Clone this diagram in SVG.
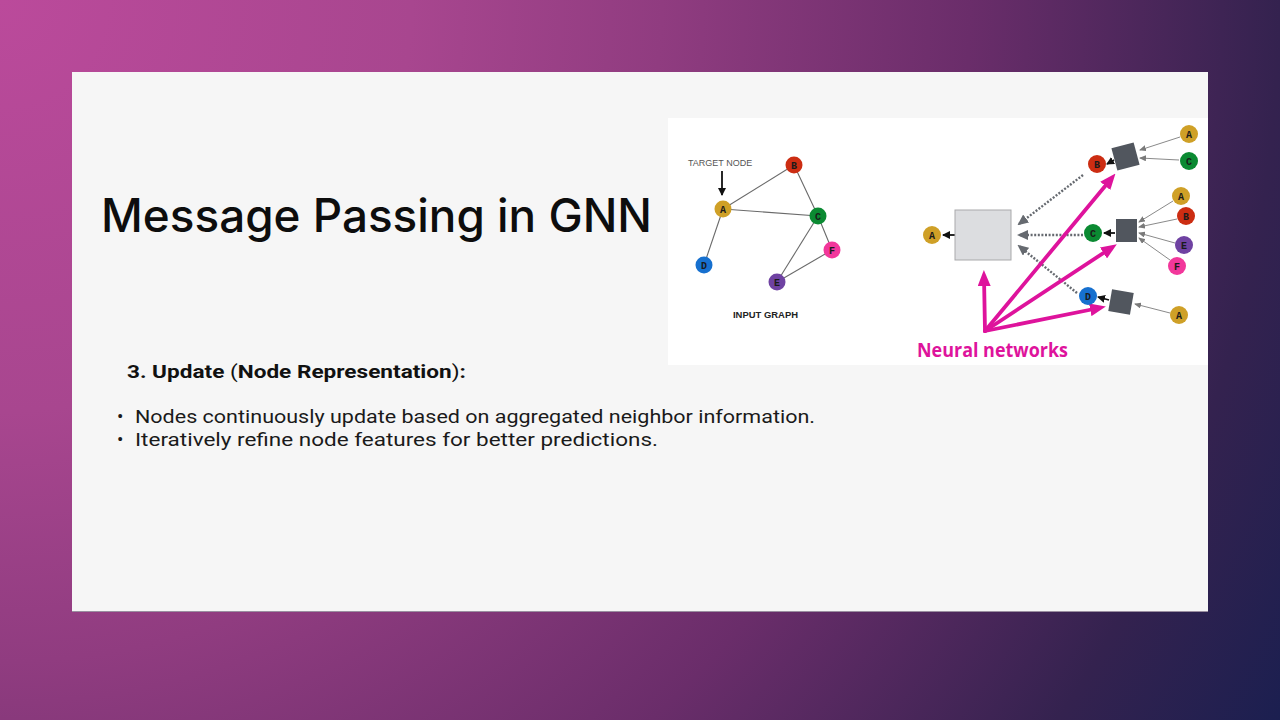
<svg xmlns="http://www.w3.org/2000/svg" width="1280" height="720" viewBox="0 0 1280 720">
  <defs>
    <radialGradient id="bg" gradientUnits="userSpaceOnUse" cx="0" cy="0" r="1470">
      <stop offset="0" stop-color="#bb4a9b"/>
      <stop offset="0.28" stop-color="#a8468f"/>
      <stop offset="0.45" stop-color="#903c80"/>
      <stop offset="0.66" stop-color="#6a2d6a"/>
      <stop offset="0.87" stop-color="#34224f"/>
      <stop offset="1" stop-color="#1b1f50"/>
    </radialGradient>
    <marker id="mk-black" markerUnits="userSpaceOnUse" markerWidth="8" markerHeight="8" refX="7" refY="4" orient="auto">
      <path d="M0,0 L8,4 L0,8 z" fill="#111"/>
    </marker>
    <marker id="mk-dot" markerUnits="userSpaceOnUse" markerWidth="11" markerHeight="10" refX="9" refY="5" orient="auto">
      <path d="M0,0 L11,5 L0,10 z" fill="#666a70"/>
    </marker>
    <marker id="mk-thin" markerUnits="userSpaceOnUse" markerWidth="7" markerHeight="6" refX="6" refY="3" orient="auto">
      <path d="M0,0 L7,3 L0,6 z" fill="#7a7a7a"/>
    </marker>
    <marker id="mk-mag" markerUnits="userSpaceOnUse" markerWidth="16" markerHeight="13" refX="9" refY="6.5" orient="auto">
      <path d="M0,0 L16,6.5 L0,13 z" fill="#de139c"/>
    </marker>
    <style>
      .title { font-family: "Inter", "Liberation Sans", sans-serif; font-size: 46px; font-weight: 500; fill: #0d0d0d; }
      .sub { font-family: "Roboto", "Liberation Sans", sans-serif; font-size: 19px; fill: #111; }
      .body { font-family: "Roboto", "Liberation Sans", sans-serif; font-size: 19px; fill: #1a1a1a; }
      .lbl { font-family: "Liberation Mono", "DejaVu Sans Mono", monospace; font-size: 10px; font-weight: bold; fill: #1a1a1a; text-anchor: middle; }
      .cap { font-family: "Liberation Sans", sans-serif; font-size: 9px; }
      .edge { stroke: #6a6a6a; stroke-width: 1.1; fill: none; }
      .dot { stroke: #666a70; stroke-width: 2.4; stroke-dasharray: 2 1.6; fill: none; }
      .thin { stroke: #8a8a8a; stroke-width: 1; fill: none; }
      .blk { stroke: #111; stroke-width: 1.8; fill: none; }
      .mag { stroke: #de139c; stroke-width: 3.8; fill: none; stroke-linecap: round; }
      .sq { fill: #51565e; }
      .nA { fill: #cfa027; }
      .nB { fill: #cc2d12; }
      .nC { fill: #0b8a32; }
      .nD { fill: #1670cf; }
      .nE { fill: #6f42a2; }
      .nF { fill: #f2379b; }
    </style>
  </defs>

  <!-- backdrop and slide card -->
  <rect x="0" y="0" width="1280" height="720" fill="url(#bg)"/>
  <rect x="72" y="72" width="1136" height="540" fill="#9a8ea0"/>
  <rect x="72" y="72" width="1136" height="539" fill="#f6f6f6"/>
  <rect x="668" y="118" width="540" height="247" fill="#ffffff"/>

  <!-- headings and body text -->
  <text class="title" x="101" y="232" textLength="551" lengthAdjust="spacingAndGlyphs">Message Passing in GNN</text>
  <text class="sub" x="127" y="378" textLength="339" lengthAdjust="spacingAndGlyphs"><tspan font-weight="bold">3. Update </tspan><tspan>(</tspan><tspan font-weight="bold">Node Representation</tspan><tspan>)</tspan><tspan font-weight="bold">:</tspan></text>
  <text class="body" x="117" y="423">•</text>
  <text class="body" x="135" y="423" textLength="680" lengthAdjust="spacingAndGlyphs">Nodes continuously update based on aggregated neighbor information.</text>
  <text class="body" x="117" y="446">•</text>
  <text class="body" x="135" y="446" textLength="523" lengthAdjust="spacingAndGlyphs">Iteratively refine node features for better predictions.</text>

  <!-- input graph -->
  <g id="input-graph-edges">
    <line class="edge" x1="723" y1="209" x2="794" y2="165"/>
    <line class="edge" x1="723" y1="209" x2="818" y2="216"/>
    <line class="edge" x1="723" y1="209" x2="704" y2="265"/>
    <line class="edge" x1="794" y1="165" x2="818" y2="216"/>
    <line class="edge" x1="818" y1="216" x2="777" y2="282"/>
    <line class="edge" x1="818" y1="216" x2="832" y2="250"/>
    <line class="edge" x1="777" y1="282" x2="832" y2="250"/>
  </g>
  <g id="target-label">
    <text class="cap" x="688" y="166" fill="#555">TARGET NODE</text>
    <line class="blk" x1="722" y1="171" x2="722" y2="195" stroke-width="1.2" marker-end="url(#mk-black)"/>
  </g>
  <g id="g-A"><circle class="nA" cx="723" cy="209" r="8.5"/><text class="lbl" x="723" y="212.5">A</text></g>
  <g id="g-B"><circle class="nB" cx="794" cy="165" r="8.5"/><text class="lbl" x="794" y="168.5">B</text></g>
  <g id="g-C"><circle class="nC" cx="818" cy="216" r="8.5"/><text class="lbl" x="818" y="219.5">C</text></g>
  <g id="g-D"><circle class="nD" cx="704" cy="265" r="8.5"/><text class="lbl" x="704" y="268.5">D</text></g>
  <g id="g-E"><circle class="nE" cx="777" cy="282" r="8.5"/><text class="lbl" x="777" y="285.5">E</text></g>
  <g id="g-F"><circle class="nF" cx="832" cy="250" r="8.5"/><text class="lbl" x="832" y="253.5">F</text></g>
  <text class="cap" x="733" y="318" font-weight="bold" font-size="8.5" fill="#222" textLength="65" lengthAdjust="spacingAndGlyphs">INPUT GRAPH</text>

  <!-- computation graph connectors -->
  <g id="connectors">
    <line class="dot" x1="1083" y1="175" x2="1019" y2="224" marker-end="url(#mk-dot)"/>
    <line class="dot" x1="1083" y1="235" x2="1019" y2="235" marker-end="url(#mk-dot)"/>
    <line class="dot" x1="1077" y1="293" x2="1019" y2="246" marker-end="url(#mk-dot)"/>

    <line class="blk" x1="955" y1="235" x2="943" y2="235" marker-end="url(#mk-black)"/>
    <line class="blk" x1="1114" y1="160" x2="1107" y2="164" marker-end="url(#mk-black)"/>
    <line class="blk" x1="1115" y1="233" x2="1104" y2="233" marker-end="url(#mk-black)"/>
    <line class="blk" x1="1109" y1="300" x2="1098" y2="297" marker-end="url(#mk-black)"/>

    <line class="thin" x1="1180" y1="137" x2="1140" y2="150" marker-end="url(#mk-thin)"/>
    <line class="thin" x1="1179" y1="160" x2="1140" y2="158" marker-end="url(#mk-thin)"/>
    <line class="thin" x1="1173" y1="201" x2="1139" y2="222" marker-end="url(#mk-thin)"/>
    <line class="thin" x1="1177" y1="219" x2="1139" y2="227" marker-end="url(#mk-thin)"/>
    <line class="thin" x1="1175" y1="243" x2="1139" y2="233" marker-end="url(#mk-thin)"/>
    <line class="thin" x1="1170" y1="260" x2="1139" y2="238" marker-end="url(#mk-thin)"/>
    <line class="thin" x1="1170" y1="313" x2="1135" y2="304" marker-end="url(#mk-thin)"/>

    <line class="mag" x1="985" y1="331" x2="984" y2="277" marker-end="url(#mk-mag)"/>
    <line class="mag" x1="985" y1="331" x2="1111" y2="179" marker-end="url(#mk-mag)"/>
    <line class="mag" x1="985" y1="331" x2="1111" y2="248" marker-end="url(#mk-mag)"/>
    <line class="mag" x1="985" y1="331" x2="1099" y2="308" marker-end="url(#mk-mag)"/>
  </g>

  <!-- aggregation boxes -->
  <g id="agg-main"><rect x="955" y="210" width="56" height="50" fill="#dcdde0" stroke="#a9a9ab" stroke-width="1"/></g>
  <g id="agg-B"><rect class="sq" x="1114" y="145" width="23" height="23" transform="rotate(-15 1125.5 156.5)"/></g>
  <g id="agg-C"><rect class="sq" x="1116" y="219" width="21" height="23"/></g>
  <g id="agg-D"><rect class="sq" x="1110" y="291" width="22" height="22" transform="rotate(10 1121 302)"/></g>

  <!-- computation graph nodes -->
  <g id="out-A"><circle class="nA" cx="932" cy="235" r="9"/><text class="lbl" x="932" y="238.5">A</text></g>
  <g id="h-B"><circle class="nB" cx="1097" cy="164" r="9"/><text class="lbl" x="1097" y="167.5">B</text></g>
  <g id="h-C"><circle class="nC" cx="1093" cy="233" r="9"/><text class="lbl" x="1093" y="236.5">C</text></g>
  <g id="h-D"><circle class="nD" cx="1088" cy="296" r="9"/><text class="lbl" x="1088" y="299.5">D</text></g>
  <g id="nb-B-A"><circle class="nA" cx="1189" cy="134" r="9"/><text class="lbl" x="1189" y="137.5">A</text></g>
  <g id="nb-B-C"><circle class="nC" cx="1189" cy="161" r="9"/><text class="lbl" x="1189" y="164.5">C</text></g>
  <g id="nb-C-A"><circle class="nA" cx="1181" cy="196" r="9"/><text class="lbl" x="1181" y="199.5">A</text></g>
  <g id="nb-C-B"><circle class="nB" cx="1186" cy="216" r="9"/><text class="lbl" x="1186" y="219.5">B</text></g>
  <g id="nb-C-E"><circle class="nE" cx="1184" cy="245" r="9"/><text class="lbl" x="1184" y="248.5">E</text></g>
  <g id="nb-C-F"><circle class="nF" cx="1177" cy="266" r="9"/><text class="lbl" x="1177" y="269.5">F</text></g>
  <g id="nb-D-A"><circle class="nA" cx="1179" cy="315" r="9"/><text class="lbl" x="1179" y="318.5">A</text></g>

  <text x="917" y="357" font-family="Open Sans, Liberation Sans, sans-serif" font-weight="bold" font-size="19" fill="#de139c" textLength="151" lengthAdjust="spacingAndGlyphs">Neural networks</text>
</svg>
